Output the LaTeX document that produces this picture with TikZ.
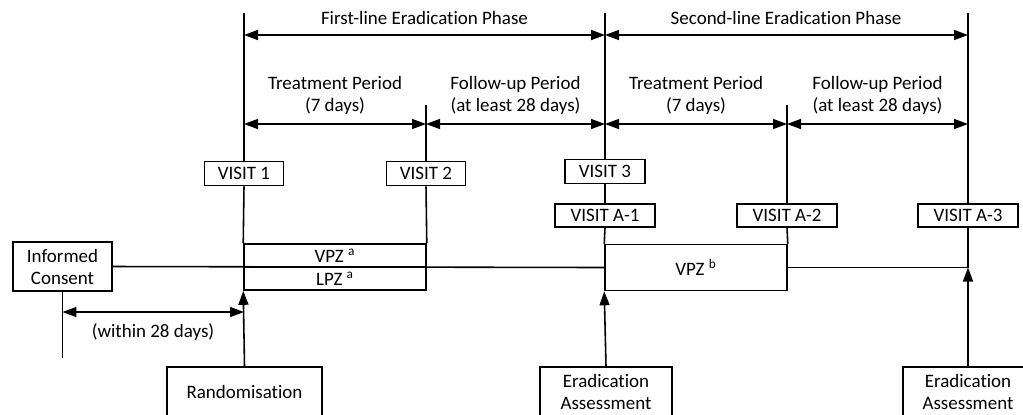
\documentclass[tikz,border=0pt]{standalone}
\usepackage{fontspec}
\setmainfont{Carlito}[RawFeature={-liga;-clig;-calt}]
\usetikzlibrary{arrows.meta}

\begin{document}
\begin{tikzpicture}[x=0.02cm, y=-0.02cm, line width=0.9pt,
    every node/.style={font=\fontsize{10.8}{12.5}\selectfont, inner sep=1pt},
    visit/.style={draw, minimum height=0.48cm, inner sep=2pt},
    drug/.style={draw, minimum width=3.64cm, minimum height=0.46cm},
    event/.style={draw, align=center, minimum height=1cm},
    label/.style={align=center},
    tip/.style={-{Triangle[length=2.8mm,width=2mm]}},
    span/.style={{Triangle[length=2.8mm,width=2mm]}-{Triangle[length=2.8mm,width=2mm]}}]

    \clip (0,0) rectangle (1023,414);

    % time points
    \coordinate (topA) at (244,13);
    \coordinate (topB) at (426,105);
    \coordinate (topC) at (605,13);
    \coordinate (topD) at (787,105);
    \coordinate (topE) at (968,13);

    % visits
    \node [visit, minimum width=1.58cm] (v1) at (244,173.5) {VISIT 1};
    \node [visit, minimum width=1.58cm] (v2) at (426,173.5) {VISIT 2};
    \node [visit, minimum width=1.6cm] (v3) at (605,171.5) {VISIT 3};
    \node [visit, minimum width=2cm, minimum height=0.46cm] (va1) at (605,215.5) {VISIT A-1};
    \node [visit, minimum width=2cm, minimum height=0.46cm] (va2) at (787,215.5) {VISIT A-2};
    \node [visit, minimum width=2cm, minimum height=0.46cm] (va3) at (968,215.5) {VISIT A-3};

    % drugs
    \node [drug] (vpz) at (335,255.5) {VPZ \textsuperscript{a}};
    \node [drug] (lpz) at (335,278.5) {LPZ \textsuperscript{a}};
    \node [drug, minimum height=0.92cm] (vpzb) at (696,267.5) {VPZ \textsuperscript{b}};

    % events
    \node [event, minimum width=1.98cm, minimum height=0.98cm] (ic) at (62.5,266.5) {Informed\\Consent};
    \node [event, minimum width=3.1cm] (rand) at (244.5,392) {Randomisation};
    \node [event, minimum width=2.64cm] (ea1) at (606,392) {Eradication\\Assessment};
    \node [event, minimum width=2.6cm] (ea2) at (968,392) {Eradication\\Assessment};

    \coordinate (endE) at (968,267.5);
    \coordinate (icend) at (62.5,358);

    % vertical lines
    \draw (topA) -- (v1.north);
    \draw (v1.south) -- (vpz.north west);
    \draw (topB) -- (v2.north);
    \draw (v2.south) -- (vpz.north east);
    \draw (topC) -- (v3.north);
    \draw (v3.south) -- (va1.north);
    \draw (va1.south) -- (vpzb.north west);
    \draw (topD) -- (va2.north);
    \draw (va2.south) -- (vpzb.north east);
    \draw (topE) -- (va3.north);
    \draw (va3.south) -- (endE);
    \draw (ic.south) -- (icend);

    % horizontal line
    \draw (ic.east) -- (vpzb.west);
    \draw (vpzb.east) -- (endE);

    % assessments
    \draw [tip] (rand.north) -- (lpz.south west);
    \draw [tip] (ea1.north) -- (vpzb.south west);
    \draw [tip] (ea2.north) -- (endE);

    % phases
    \draw [span] (244,35) -- (605,35);
    \draw [span] (605,35) -- (968,35);
    \node (ph1) at (424.5,18) {First-line Eradication Phase};
    \node (ph2) at (786,18) {Second-line Eradication Phase};

    % periods
    \draw [span] (244,124) -- (426,124);
    \draw [span] (426,124) -- (605,124);
    \draw [span] (605,124) -- (787,124);
    \draw [span] (787,124) -- (968,124);
    \node [label] (tp1) at (335,95.5) {Treatment Period\\(7 days)};
    \node [label] (fp1) at (515.5,95.5) {Follow-up Period\\(at least 28 days)};
    \node [label] (tp2) at (696,95.5) {Treatment Period\\(7 days)};
    \node [label] (fp2) at (877.5,95.5) {Follow-up Period\\(at least 28 days)};

    % screening window
    \draw [span] (62.5,312) -- (244,312);
    \node (win) at (153,332) {(within 28 days)};

\end{tikzpicture}
\end{document}
